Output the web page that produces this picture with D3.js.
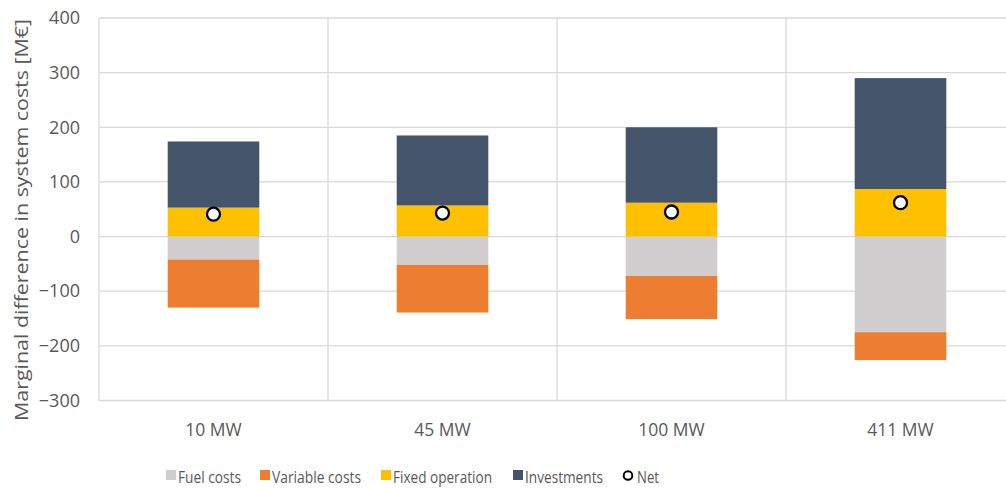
<!DOCTYPE html>
<html>
<head>
<meta charset="utf-8">
<script src="https://cdn.jsdelivr.net/npm/d3@7"></script>
<style>
  body { margin: 0; background: #fff; }
  svg { display: block; font-family: "Open Sans", "Noto Sans", sans-serif; }
</style>
</head>
<body>
<svg width="1006" height="490"></svg>
<script>
const categories = ["10 MW", "45 MW", "100 MW", "411 MW"];
const fuelCosts = [-42, -52, -72, -175];
const variableCosts = [-88, -87, -79, -51];
const fixedOperation = [53, 57, 62, 87];
const investments = [121, 128, 138, 203];
const net = [41, 43, 45, 62];
const yTicks = [-300, -200, -100, 0, 100, 200, 300, 400];

const series = [
  { key: "fuel", label: "Fuel costs", values: fuelCosts, color: "#D0CECE" },
  { key: "variable", label: "Variable costs", values: variableCosts, color: "#ED7D31" },
  { key: "fixed", label: "Fixed operation", values: fixedOperation, color: "#FFC000" },
  { key: "invest", label: "Investments", values: investments, color: "#44546A" }
];

const svg = d3.select("svg");
const plotLeft = 99, plotRight = 1015, plotTop = 18, plotBottom = 400.5;
const textColor = "#595959";

// table for d3.stack
const rows = categories.map((c, i) => {
  const r = { cat: c };
  series.forEach(s => { r[s.key] = s.values[i]; });
  return r;
});

const x = d3.scaleBand().domain(categories).range([plotLeft, plotRight])
  .paddingInner(0.6).paddingOuter(0.3);
const y = d3.scaleLinear().domain([-300, 400]).range([plotBottom, plotTop]);

const grid = "#D9D9D9";

// horizontal gridlines
svg.append("g").selectAll("line").data(yTicks).join("line")
  .attr("x1", plotLeft).attr("x2", plotRight)
  .attr("y1", d => y(d)).attr("y2", d => y(d))
  .attr("stroke", grid).attr("stroke-width", 1.3);

// vertical category separators
const step = x.step();
svg.append("g").selectAll("line").data(d3.range(categories.length + 1)).join("line")
  .attr("x1", i => plotLeft + i * step).attr("x2", i => plotLeft + i * step)
  .attr("y1", plotTop).attr("y2", plotBottom)
  .attr("stroke", grid).attr("stroke-width", 1.3);

// y axis labels
const yAxis = d3.axisLeft(y).tickValues(yTicks).tickSize(0).tickPadding(0);
svg.append("g").attr("transform", `translate(${plotLeft - 19},0)`).call(yAxis)
  .call(g => g.select(".domain").remove())
  .selectAll("text")
  .attr("fill", textColor).style("font-size", "18px")
  .style("font-family", "'Open Sans', sans-serif");

// x axis labels
const xAxis = d3.axisBottom(x).tickSize(0).tickPadding(0);
svg.append("g").attr("transform", `translate(0,${plotBottom})`).call(xAxis)
  .call(g => g.select(".domain").remove())
  .selectAll("text")
  .attr("y", 35).attr("dy", null)
  .attr("fill", textColor).style("font-size", "17.5px")
  .style("font-family", "'Open Sans', sans-serif");

// stacked bars
const stack = d3.stack().keys(series.map(s => s.key)).offset(d3.stackOffsetDiverging);
const stacked = stack(rows);

svg.append("g").selectAll("g").data(stacked).join("g")
  .attr("fill", (d, i) => series[i].color)
  .selectAll("rect").data(d => d).join("rect")
  .attr("x", d => x(d.data.cat))
  .attr("width", x.bandwidth())
  .attr("y", d => y(Math.max(d[0], d[1])))
  .attr("height", d => Math.abs(y(d[0]) - y(d[1])));

// net markers
svg.append("g").selectAll("circle").data(net).join("circle")
  .attr("cx", (d, i) => x(categories[i]) + x.bandwidth() / 2)
  .attr("cy", d => y(d))
  .attr("r", 6.5)
  .attr("fill", "#fff").attr("stroke", "#000").attr("stroke-width", 2.3);

// y axis title
svg.append("text")
  .attr("transform", "translate(28,220) rotate(-90)")
  .attr("text-anchor", "middle")
  .attr("fill", textColor).style("font-size", "19px")
  .attr("textLength", 402).attr("lengthAdjust", "spacingAndGlyphs")
  .text("Marginal difference in system costs [M€]");

// legend
const legendItems = [
  { label: "Fuel costs", x: 166, w: 63, color: "#D0CECE" },
  { label: "Variable costs", x: 260, w: 89, color: "#ED7D31" },
  { label: "Fixed operation", x: 381, w: 99, color: "#FFC000" },
  { label: "Investments", x: 513, w: 78, color: "#44546A" }
];
const lg = svg.append("g");
legendItems.forEach(it => {
  lg.append("rect").attr("x", it.x).attr("y", 470).attr("width", 10).attr("height", 10)
    .attr("fill", it.color);
  lg.append("text").attr("x", it.x + 12).attr("y", 482.5)
    .attr("fill", textColor).style("font-size", "16.5px")
    .attr("textLength", it.w).attr("lengthAdjust", "spacingAndGlyphs")
    .text(it.label);
});
lg.append("circle").attr("cx", 628).attr("cy", 475.5).attr("r", 4.3)
  .attr("fill", "#fff").attr("stroke", "#000").attr("stroke-width", 2);
lg.append("text").attr("x", 637).attr("y", 482.5)
  .attr("fill", textColor).style("font-size", "16.5px")
  .attr("textLength", 22).attr("lengthAdjust", "spacingAndGlyphs").text("Net");
</script>
</body>
</html>
